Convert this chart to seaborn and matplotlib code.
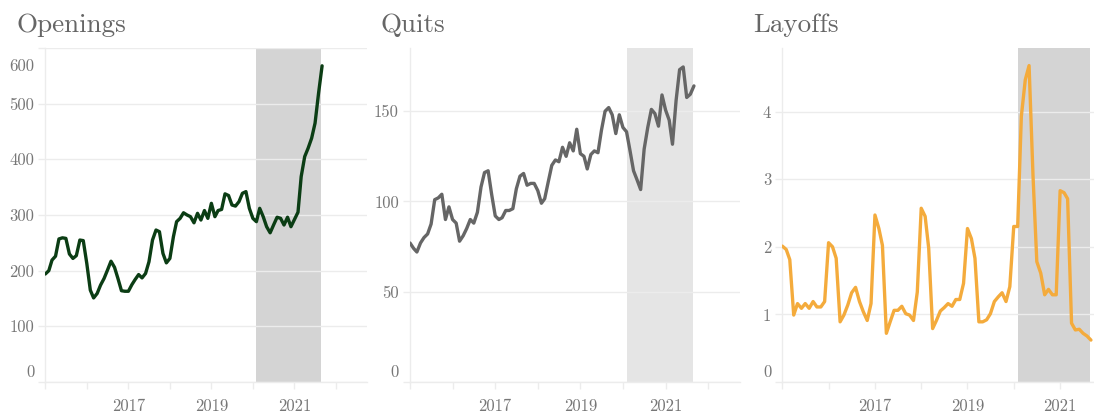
import matplotlib
matplotlib.use("Agg")
import matplotlib.pyplot as plt
import matplotlib.transforms as mtransforms
import pandas as pd
import seaborn as sns

# monthly series, Jan 2015 - Sep 2021
months = pd.date_range("2015-01-01", periods=81, freq="MS")

openings = [194, 200, 219, 226, 257, 259, 258, 230, 222, 227, 255, 254,
            213, 165, 151, 159, 174, 186, 201, 217, 206, 186, 164, 163,
            163, 175, 184, 193, 187, 195, 216, 255, 273, 270, 231, 214,
            222, 261, 288, 294, 304, 300, 297, 286, 303, 291, 308, 294,
            321, 297, 308, 310, 338, 335, 318, 316, 324, 339, 342, 312,
            294, 288, 312, 297, 279, 268, 282, 296, 294, 282, 296, 279,
            292, 305, 369, 405, 420, 438, 465, 519, 568]

quits = [77, 74, 72, 77, 80, 82, 87.5, 101, 102, 104, 90, 97,
         90, 88, 78, 81, 85, 90, 88, 94, 108, 116, 117, 104,
         92, 90, 91, 95, 95, 96, 107, 114, 115.5, 109, 110, 110,
         106, 99, 101.5, 111, 120, 123, 122, 130, 125, 132.5, 128, 140,
         126.5, 125, 118, 126, 128, 127, 139.5, 150, 152, 148, 137.6, 148,
         141, 138.6, 128.4, 117, 112, 106.6, 129, 141, 151, 148.7, 141.7, 159,
         150.6, 145, 131.7, 156, 173, 174.5, 157.6, 159.4, 164]

layoffs = [2.01, 1.96, 1.81, 0.99, 1.16, 1.09, 1.16, 1.09, 1.19, 1.11, 1.11, 1.19,
           2.06, 2.00, 1.83, 0.89, 0.99, 1.14, 1.32, 1.40, 1.19, 1.04, 0.91, 1.16,
           2.47, 2.27, 2.02, 0.72, 0.89, 1.06, 1.06, 1.12, 1.01, 0.99, 0.91, 1.33,
           2.57, 2.45, 1.98, 0.79, 0.91, 1.05, 1.10, 1.16, 1.12, 1.22, 1.22, 1.46,
           2.27, 2.12, 1.83, 0.89, 0.89, 0.92, 1.01, 1.19, 1.26, 1.32, 1.19, 1.41,
           2.30, 2.30, 3.93, 4.47, 4.68, 3.05, 1.78, 1.61, 1.29, 1.37, 1.29, 1.29,
           2.83, 2.80, 2.71, 0.87, 0.77, 0.78, 0.72, 0.68, 0.62]

titles = ["Openings", "Quits", "Layoffs"]
series = [openings, quits, layoffs]
line_colors = ["#0b3d14", "#666666", "#f4ab3c"]
shade_colors = ["#d4d4d4", "#e5e5e5", "#d4d4d4"]
ylims = [(0, 600), (0, 185), (0, 4.94)]
yticks = [[0, 100, 200, 300, 400, 500, 600], [0, 50, 100, 150], [0, 1, 2, 3, 4]]
year_ticks = pd.date_range("2015-01-01", "2022-01-01", freq="YS")
year_labels = ["", "", "2017", "", "2019", "", "2021", ""]
shade_start, shade_end = pd.Timestamp("2020-02-01"), pd.Timestamp("2021-08-22")
x_range = (pd.Timestamp("2015-01-01"), pd.Timestamp("2022-10-01"))

sns.set_theme(style="white")
plt.rcParams["font.family"] = ["cmr10", "DejaVu Serif"]
plt.rcParams["axes.unicode_minus"] = False
plt.rcParams["axes.formatter.use_mathtext"] = True

W, H = 1094, 415
fig = plt.figure(figsize=(W / 100, H / 100), dpi=100)

# panel rectangles in pixels: left, right
panels = [(45.3, 367), (410, 740), (782.3, 1141)]
title_x = [16, 380, 753]
ax_top, ax_bottom = 48, 382
grid_c = "#ececec"

for i in range(3):
    l, r = panels[i]
    ax = fig.add_axes([l / W, (H - ax_bottom) / H, (r - l) / W, (ax_bottom - ax_top) / H])
    ax.axvspan(shade_start, shade_end, color=shade_colors[i], lw=0, zorder=0.2)
    sns.lineplot(x=months, y=series[i], ax=ax, color=line_colors[i], linewidth=2.4, zorder=3)

    ax.set_xlim(*x_range)
    ax.set_ylim(*ylims[i])
    ax.set_xticks(year_ticks)
    ax.set_xticklabels(year_labels)
    ax.set_yticks(yticks[i])
    ax.set_yticklabels([str(v) for v in yticks[i]])
    ax.set_xlabel("")
    ax.set_ylabel("")

    ax.grid(axis="y", color=grid_c, lw=1)
    ax.grid(axis="x", visible=False)
    for s in ["top", "right"]:
        ax.spines[s].set_visible(False)
    for s in ["left", "bottom"]:
        ax.spines[s].set_color(grid_c)
        ax.spines[s].set_linewidth(1)
    ax.tick_params(axis="both", length=5, width=1, color=grid_c, labelcolor="#777777",
                   labelsize=12, pad=3)
    ax.tick_params(axis="x", pad=7)
    ax.tick_params(axis="y", left=True)
    ax.tick_params(axis="x", bottom=True)

    # keep first and last y labels inside the plot area
    for tick in ax.yaxis.get_major_ticks():
        lab = tick.label1
        txt = lab.get_text()
        dy = 0
        if txt == "0":
            dy = 11
        elif float(txt) == ylims[i][1]:
            dy = -16.5
        if dy:
            lab.set_transform(lab.get_transform() +
                              mtransforms.ScaledTranslation(0, dy / 100, fig.dpi_scale_trans))

    fig.text(title_x[i] / W, (H - 31.7) / H, titles[i], fontsize=19.5, color="#666666",
             ha="left", va="baseline")

fig.savefig("out.png", dpi=100)
